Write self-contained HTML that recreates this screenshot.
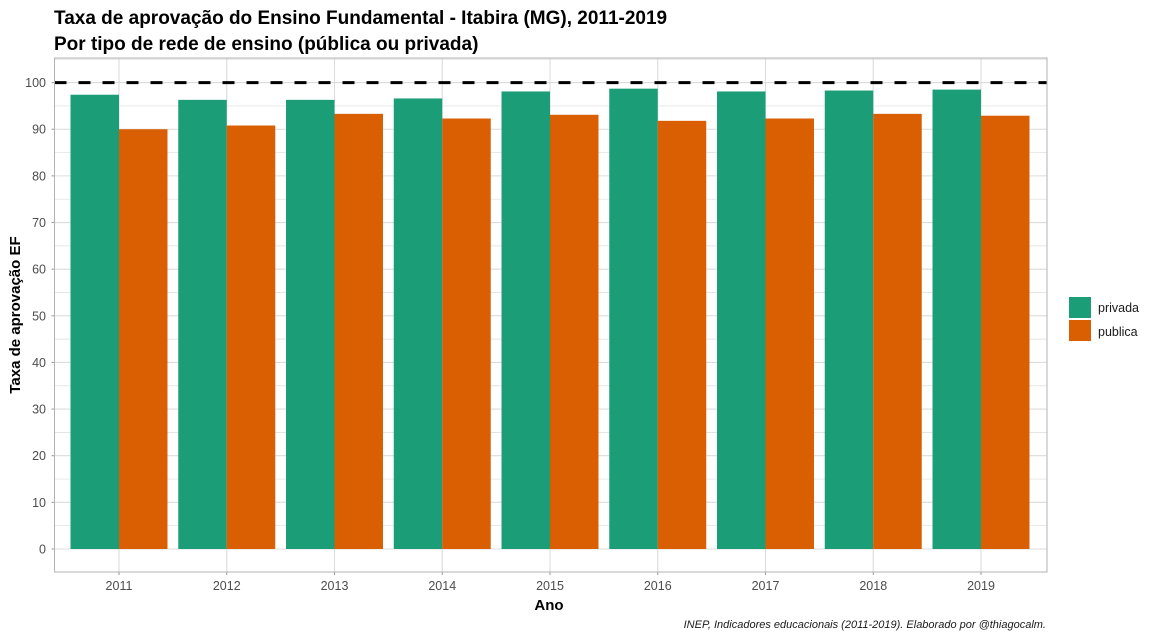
<!DOCTYPE html>
<html><head><meta charset="utf-8"><style>
body{margin:0;background:#fff;font-family:"Liberation Sans",Arial,sans-serif}
svg text{font-family:"Liberation Sans",Arial,sans-serif}
</style></head><body>
<svg id="c" width="1155" height="638" xmlns="http://www.w3.org/2000/svg">
<rect width="1155" height="638" fill="#fff"/>
<text x="54" y="24" font-size="19" font-weight="bold" fill="#000">Taxa de aprovação do Ensino Fundamental - Itabira (MG), 2011-2019</text>
<text x="54" y="50" font-size="19" font-weight="bold" fill="#000">Por tipo de rede de ensino (pública ou privada)</text>
<g id="grid"></g><g id="bars"></g><g id="axes"></g>
<text x="549" y="610" font-size="15" font-weight="bold" text-anchor="middle">Ano</text>
<text transform="translate(20,315) rotate(-90)" font-size="15" font-weight="bold" text-anchor="middle">Taxa de aprovação EF</text>
<g>
<rect x="1069" y="297" width="22" height="21" fill="#1b9e77"/>
<text x="1098" y="312" font-size="12.5" fill="#1a1a1a">privada</text>
<rect x="1069" y="320" width="22" height="21" fill="#d95f02"/>
<text x="1098" y="336" font-size="12.5" fill="#1a1a1a">publica</text>
</g>
<text x="1046" y="628" font-size="11" font-style="italic" text-anchor="end" fill="#1a1a1a">INEP, Indicadores educacionais (2011-2019). Elaborado por @thiagocalm.</text>
</svg>
<script>
const years=["2011","2012","2013","2014","2015","2016","2017","2018","2019"];
const privada=[97.4,96.3,96.3,96.6,98.1,98.7,98.1,98.3,98.5];
const publica=[90.0,90.8,93.3,92.3,93.1,91.8,92.3,93.3,92.9];
const yTicks=[0,10,20,30,40,50,60,70,80,90,100];
const refLine=100;
const NS="http://www.w3.org/2000/svg";
const L=54.5,R=1047,T=58,B=572;
const y0=549,yk=4.664;
const y=v=>y0-v*yk;
const step=107.75,x0=119;
const x=i=>x0+i*step;
function mk(t,a,p){const e=document.createElementNS(NS,t);for(const k in a)e.setAttribute(k,a[k]);p.appendChild(e);return e;}
const g=document.getElementById('grid'),b=document.getElementById('bars'),ax=document.getElementById('axes');
for(let v=-0;v<=105;v+=5){const e=mk('line',{x1:L,x2:R,y1:y(v),y2:y(v),stroke:'#dcdcdc','stroke-width':v%10?0.7:1.1},g);

}
years.forEach((yr,i)=>{const e=mk('line',{x1:x(i),x2:x(i),y1:T,y2:B,stroke:'#dcdcdc','stroke-width':1.1},g);

});
const bw=step*0.45;
years.forEach((yr,i)=>{
const r1=mk('rect',{x:x(i)-bw,y:y(privada[i]),width:bw,height:y(0)-y(privada[i]),fill:'#1b9e77'},b);


const r2=mk('rect',{x:x(i),y:y(publica[i]),width:bw,height:y(0)-y(publica[i]),fill:'#d95f02'},b);


const t=mk('text',{x:x(i),y:B+18,'font-size':12.5,'text-anchor':'middle',fill:'#4d4d4d'},ax);t.textContent=yr;


const tk=mk('line',{x1:x(i),x2:x(i),y1:B,y2:B+3,stroke:'#999'},ax);


});
const rl=mk('line',{x1:L,x2:R,y1:y(refLine),y2:y(refLine),stroke:'#000','stroke-width':3,'stroke-dasharray':'12,12'},ax);


yTicks.forEach(v=>{const t=mk('text',{x:46,y:y(v)+4.5,'font-size':12.5,'text-anchor':'end',fill:'#4d4d4d'},ax);t.textContent=v;


const tk=mk('line',{x1:L-3,x2:L,y1:y(v),y2:y(v),stroke:'#999'},ax);

});
const pb=mk('rect',{x:L,y:T,width:R-L,height:B-T,fill:'none',stroke:'#b3b3b3','stroke-width':1},ax);


</script>
</body></html>
